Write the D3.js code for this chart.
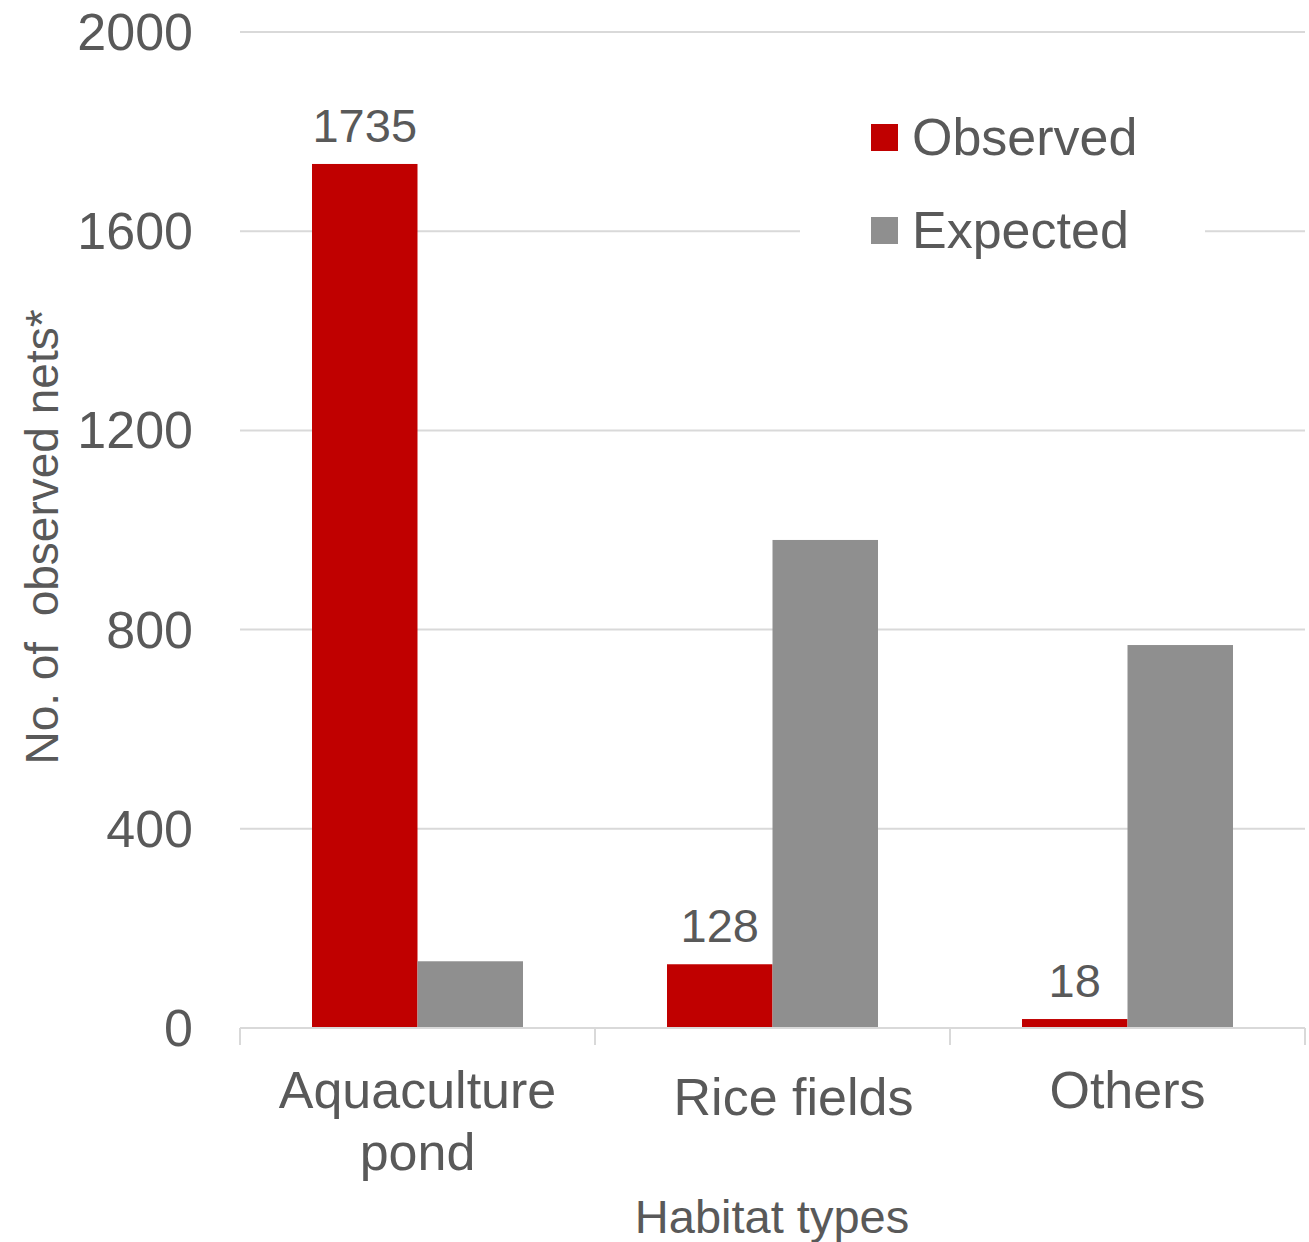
<!DOCTYPE html>
<html>
<head>
<meta charset="utf-8">
<script src="https://cdn.jsdelivr.net/npm/d3@7"></script>
<style>
  body { margin: 0; background: #fff; }
  text { font-family: "Liberation Sans", Arial, sans-serif; fill: #595959; white-space: pre; }
</style>
</head>
<body>
<svg width="1309" height="1242"></svg>
<script>
const categories = ["Aquaculture pond", "Rice fields", "Others"];
const catLines = [["Aquaculture", "pond"], ["Rice fields"], ["Others"]];
const series = ["Observed", "Expected"];
const observed = [1735, 128, 18];
const expected = [134, 980, 769];
const yTicks = [0, 400, 800, 1200, 1600, 2000];
const colors = { Observed: "#c00000", Expected: "#8f8f8f" };

const svg = d3.select("svg");
const plotLeft = 240, plotRight = 1305, plotTop = 32, plotBottom = 1028;

const x0 = d3.scaleBand().domain(categories).range([plotLeft, plotRight]);
const x1 = d3.scaleBand().domain(series).range([72, 283]);
const y = d3.scaleLinear().domain([0, 2000]).range([plotBottom, plotTop]);

// gridlines
svg.append("g")
    .selectAll("line")
    .data(yTicks.filter(d => d > 0))
    .enter()
    .append("line")
    .attr("x1", plotLeft)
    .attr("x2", plotRight)
    .attr("y1", d => y(d))
    .attr("y2", d => y(d))
    .attr("stroke", "#d9d9d9")
    .attr("stroke-width", 2);

// y tick labels
svg.append("g")
    .selectAll("text")
    .data(yTicks)
    .enter()
    .append("text")
    .attr("x", 193)
    .attr("y", d => y(d) + 18)
    .attr("text-anchor", "end")
    .attr("font-size", 52)
    .text(d => d);

// bars
const rows = categories.map((c, i) => ({ cat: c, Observed: observed[i], Expected: expected[i] }));
const groups = svg.append("g")
    .selectAll("g")
    .data(rows)
    .enter()
    .append("g")
    .attr("transform", d => `translate(${x0(d.cat)},0)`);

groups.selectAll("rect")
    .data(d => series.map(s => ({ s: s, v: d[s] })))
    .enter()
    .append("rect")
    .attr("x", d => x1(d.s))
    .attr("y", d => y(d.v))
    .attr("width", x1.bandwidth())
    .attr("height", d => y(0) - y(d.v))
    .attr("fill", d => colors[d.s]);

// data labels on observed
groups.append("text")
    .attr("x", x1("Observed") + x1.bandwidth() / 2)
    .attr("y", d => y(d.Observed) - 22)
    .attr("text-anchor", "middle")
    .attr("font-size", 47)
    .text(d => d.Observed);

// x axis line and ticks
svg.append("line")
    .attr("x1", plotLeft).attr("x2", plotRight)
    .attr("y1", plotBottom).attr("y2", plotBottom)
    .attr("stroke", "#d9d9d9").attr("stroke-width", 2);

const tickX = categories.map(c => x0(c)).concat([plotRight]);
svg.append("g")
    .selectAll("line")
    .data(tickX)
    .enter()
    .append("line")
    .attr("x1", d => d).attr("x2", d => d)
    .attr("y1", plotBottom).attr("y2", plotBottom + 17)
    .attr("stroke", "#d9d9d9").attr("stroke-width", 2);

// category labels (rice fields label sits a bit right of centre in the original)
const baselines = [[1108, 1170], [1115], [1108]];
const labelShift = [0, 21, 0];
categories.forEach((c, i) => {
    catLines[i].forEach((line, j) => {
        svg.append("text")
            .attr("x", x0(c) + x0.bandwidth() / 2 + labelShift[i])
            .attr("y", baselines[i][j])
            .attr("text-anchor", "middle")
            .attr("font-size", 52)
            .text(line);
    });
});

// axis titles
svg.append("text")
    .attr("x", 772)
    .attr("y", 1233)
    .attr("text-anchor", "middle")
    .attr("font-size", 47)
    .text("Habitat types");

svg.append("text")
    .attr("transform", "translate(58,537) rotate(-90)")
    .attr("text-anchor", "middle")
    .attr("font-size", 46)
    .text("No. of  observed nets*");

// legend
const legend = svg.append("g");
legend.append("rect")
    .attr("x", 800).attr("y", 100)
    .attr("width", 405).attr("height", 170)
    .attr("fill", "#fff");

const legendItems = legend.selectAll("g")
    .data(series)
    .enter()
    .append("g")
    .attr("transform", (d, i) => `translate(871,${124 + i * 93})`);

legendItems.append("rect")
    .attr("width", 27).attr("height", 27)
    .attr("fill", d => colors[d]);

legendItems.append("text")
    .attr("x", 41)
    .attr("y", 31)
    .attr("font-size", 52)
    .text(d => d);
</script>
</body>
</html>
